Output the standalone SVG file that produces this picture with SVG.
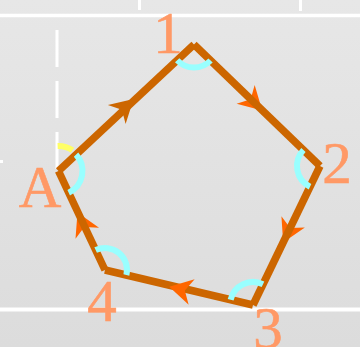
<svg xmlns="http://www.w3.org/2000/svg" width="360" height="347" viewBox="0 0 360 347">
<defs>
<linearGradient id="bg" x1="0" y1="0" x2="0" y2="1">
<stop offset="0" stop-color="#e7e7e7"/>
<stop offset="1" stop-color="#dcdcdc"/>
</linearGradient>
<path id="ah" d="M10,0 L-13,-13 L-6,0 L-13,13 Z"/>
</defs>
<style>
.grid{stroke:#ffffff;fill:none}
.edge{stroke:#cc6600;stroke-width:7.5;stroke-linecap:butt;fill:none}
.arc{stroke:#99ffff;stroke-width:6;fill:none}
.lbl{font-family:"Times New Roman",Times,"Liberation Serif","DejaVu Serif",serif;font-size:59px;fill:#ff9966;text-anchor:middle;stroke:#ff9966;stroke-width:0.6}
</style>
<rect width="360" height="347" fill="url(#bg)"/>
<g id="grid">
<line class="grid" x1="0" y1="15.5" x2="360" y2="15.5" stroke-width="3.5"/>
<line class="grid" x1="0" y1="309.5" x2="360" y2="309.5" stroke-width="4"/>
<line class="grid" x1="139.5" y1="0" x2="139.5" y2="10" stroke-width="3"/>
<line class="grid" x1="300.5" y1="0" x2="300.5" y2="11" stroke-width="3"/>
<line class="grid" x1="0" y1="161.5" x2="3" y2="161.5" stroke-width="3"/>
<line class="grid" x1="57" y1="30" x2="57" y2="170" stroke-width="3" stroke-dasharray="37 14"/>
</g>
<g id="connectors">
<use href="#ah" fill="#cc6600" transform="translate(126.25,105.75) rotate(-43.03)"/>
<use href="#ah" fill="#ff6600" transform="translate(255,103.5) rotate(43.96)"/>
<use href="#ah" fill="#ff6600" transform="translate(287.5,233.5) rotate(115.73)"/>
<use href="#ah" fill="#ff6600" transform="translate(81.75,221.5) rotate(-115.16)"/>
<line class="edge" x1="58.5" y1="171" x2="194" y2="44.5"/>
<line class="edge" x1="194" y1="44.5" x2="320" y2="166"/>
<line class="edge" x1="320" y1="166" x2="253" y2="305"/>
<line class="edge" x1="253" y1="305" x2="105" y2="270"/>
<line class="edge" x1="105" y1="270" x2="58.5" y2="171"/>
<use href="#ah" fill="#ff6600" transform="translate(179,289) rotate(-166.7)"/>
</g>
<g id="angles">
<path class="arc" d="M210.55,60.47 A23,23 0 0 1 177.19,60.20"/>
<path class="arc" d="M310.01,186.72 A23,23 0 0 1 303.45,150.03"/>
<path class="arc" d="M230.62,299.71 A23,23 0 0 1 262.99,284.28"/>
<path class="arc" d="M95.65,250.09 A22,22 0 0 1 126.41,275.06"/>
<path class="arc" d="M76.04,154.63 A24,24 0 0 1 68.70,192.72"/>
<path d="M57.63,146.02 A25,25 0 0 1 72.48,150.27" stroke="#ffff66" stroke-width="6" fill="none"/>
</g>
<g id="node-1"><text class="lbl" x="168" y="53">1</text></g>
<g id="node-2"><text class="lbl" x="337" y="183">2</text></g>
<g id="node-3"><text class="lbl" x="268" y="348">3</text></g>
<g id="node-4"><text class="lbl" x="102" y="321">4</text></g>
<g id="node-A"><text class="lbl" x="40" y="207">A</text></g>
</svg>
